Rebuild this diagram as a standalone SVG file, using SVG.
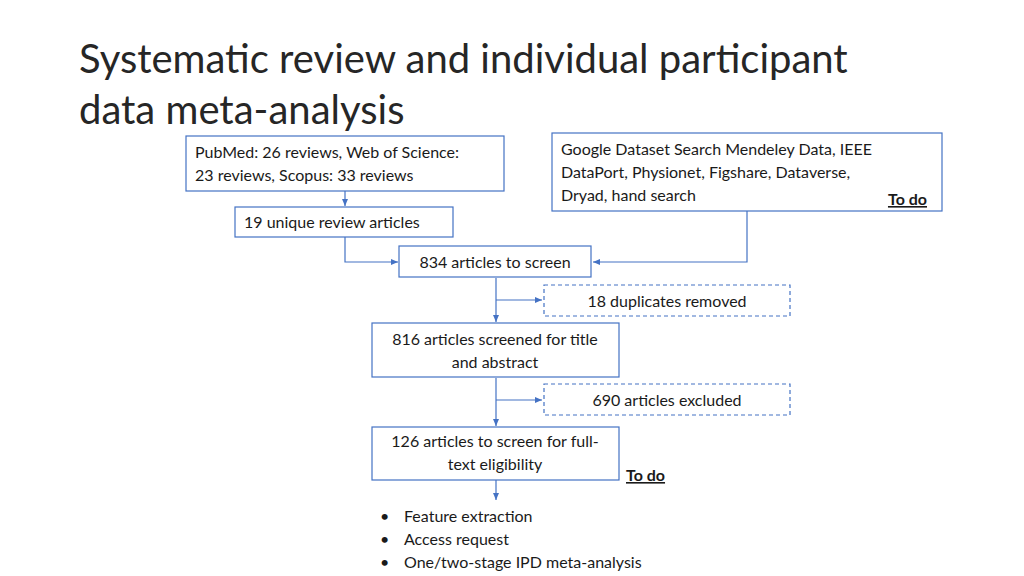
<svg xmlns="http://www.w3.org/2000/svg" width="1024" height="576" viewBox="0 0 1024 576">
<defs>
<marker id="ar" markerWidth="8" markerHeight="8" refX="7" refY="4" orient="auto" markerUnits="userSpaceOnUse"><path d="M0,1 L7,4 L0,7 z" fill="#4472c4"/></marker>
<style>
text{font-family:Lato,"Open Sans",sans-serif;fill:#1a1a1a;font-size:16px}
.t{font-size:40px;fill:#262626}
.b{fill:#fff;stroke:#4472c4;stroke-width:1.2}
.d{fill:#fff;stroke:#4472c4;stroke-width:1.2;stroke-dasharray:4 3}
.c{fill:none;stroke:#4472c4;stroke-width:1.2;marker-end:url(#ar)}
.m{text-anchor:middle}
.u{font-weight:bold;text-decoration:underline}
</style>
</defs>
<rect width="1024" height="576" fill="#fff"/>
<text class="t" x="79" y="73">Systematic review and individual participant</text>
<text class="t" x="79" y="124">data meta-analysis</text>
<g id="connectors">
<path class="c" d="M345,191 V206"/>
<path class="c" d="M345,237 V262 H398"/>
<path class="c" d="M747,211 V262 H593"/>
<path class="c" d="M496,278 V322"/>
<path class="c" d="M496,300 H542"/>
<path class="c" d="M496,378 V426"/>
<path class="c" d="M496,400 H542"/>
<path class="c" d="M496,480 V500"/>
</g>
<g id="pubmed"><rect class="b" x="186" y="136" width="318" height="55"/>
<text x="195" y="158">PubMed: 26 reviews, Web of Science:</text><text x="195" y="181">23 reviews, Scopus: 33 reviews</text></g>
<g id="google"><rect class="b" x="552" y="133" width="390" height="78"/>
<text x="561" y="155">Google Dataset Search Mendeley Data, IEEE</text><text x="561" y="178">DataPort, Physionet, Figshare, Dataverse,</text><text x="561" y="201">Dryad, hand search</text>
<text class="u" x="927" y="205" text-anchor="end">To do</text></g>
<g id="unique"><rect class="b" x="235" y="207" width="218" height="30"/><text x="244" y="228">19 unique review articles</text></g>
<g id="screen"><rect class="b" x="399" y="246" width="192" height="31"/><text class="m" x="495" y="268">834 articles to screen</text></g>
<g id="dup"><rect class="d" x="544" y="285" width="246" height="31"/><text class="m" x="667" y="307">18 duplicates removed</text></g>
<g id="title"><rect class="b" x="372" y="323" width="247" height="54"/>
<text class="m" x="495" y="345">816 articles screened for title</text><text class="m" x="495" y="368">and abstract</text></g>
<g id="excl"><rect class="d" x="544" y="384" width="246" height="31"/><text class="m" x="667" y="406">690 articles excluded</text></g>
<g id="full"><rect class="b" x="372" y="427" width="247" height="53"/>
<text class="m" x="495" y="447">126 articles to screen for full-</text><text class="m" x="495" y="470">text eligibility</text>
<text class="u" x="626" y="481">To do</text></g>
<g id="list">
<text x="380" y="522">•</text><text x="404" y="522">Feature extraction</text>
<text x="380" y="545">•</text><text x="404" y="545">Access request</text>
<text x="380" y="568">•</text><text x="404" y="568">One/two-stage IPD meta-analysis</text>
</g>
</svg>
